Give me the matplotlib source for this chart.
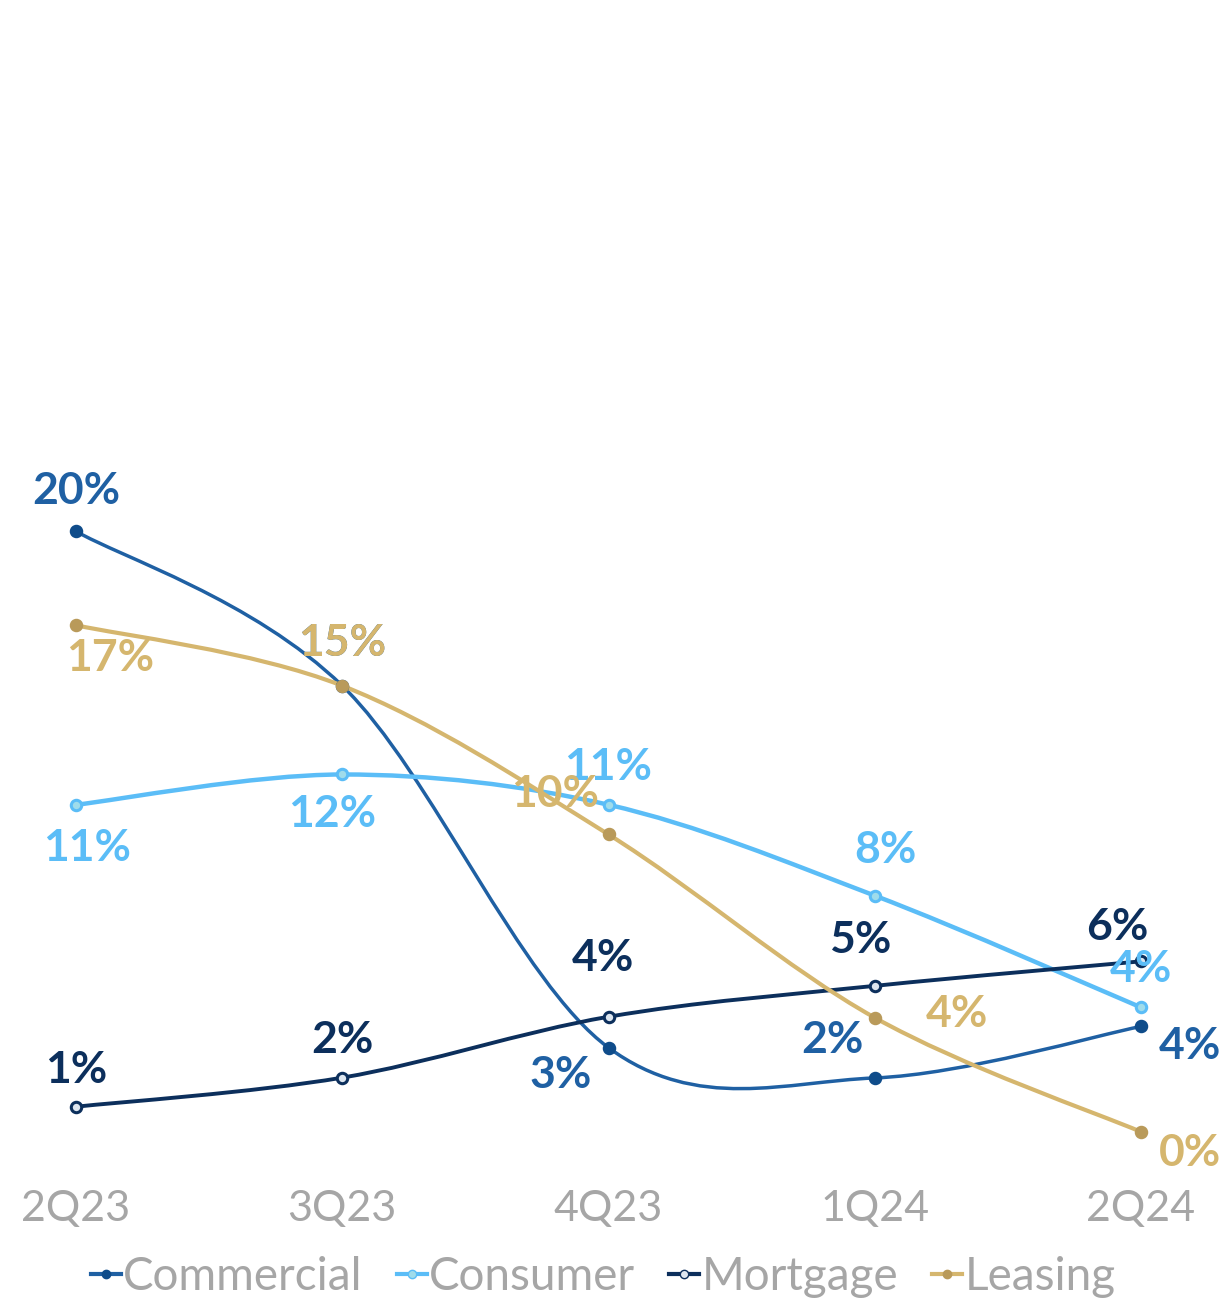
import numpy as np
import matplotlib.pyplot as plt
from matplotlib.path import Path
from matplotlib.patches import PathPatch
from matplotlib.lines import Line2D

quarters = ['2Q23', '3Q23', '4Q23', '1Q24', '2Q24']

commercial = [20.0, 14.9, 2.95, 1.95, 3.65]
consumer = [10.97, 11.97, 10.97, 7.97, 4.28]
mortgage = [1.0, 1.96, 3.97, 4.99, 5.8]
leasing = [16.9, 14.9, 9.99, 3.94, 0.17]

names = ['Commercial', 'Consumer', 'Mortgage', 'Leasing']

plt.rcParams['font.family'] = ['Lato', 'DejaVu Sans']

# line colour, line width, marker face, marker edge, label colour
styles = {
    'Commercial': dict(c='#1F60A3', lw=2.5, mfc='#0F4C8A', mec='#0F4C8A', tc='#1F60A3'),
    'Consumer': dict(c='#5BBDF7', lw=3.2, mfc='#9FDCEB', mec='#5BBDF7', tc='#5BBDF7'),
    'Mortgage': dict(c='#0C2F5C', lw=2.8, mfc='#DDE6F0', mec='#0C2F5C', tc='#0C2F5C'),
    'Leasing': dict(c='#D5B66E', lw=3.0, mfc='#B99A5A', mec='#B99A5A', tc='#D5B66E'),
}

# label offsets in pixels (dx, dy)
offsets = {
    'Commercial': [(0, 40), (0, 43), (-48, -27), (-42, 38), (49, -20)],
    'Consumer': [(11, -43), (-10, -40), (0, 38), (11, 46), (0, 38)],
    'Mortgage': [(0, 37), (0, 38), (-6, 59), (-15, 46), (-24, 34)],
    'Leasing': [(34, -33), (0, 43), (-53, 40), (82, 4), (49, -21)],
}


def smooth_path(xs, ys):
    # Catmull-Rom style cubic Bezier through every point
    pts = np.column_stack([xs, ys]).astype(float)
    n = len(pts)
    verts = [pts[0]]
    codes = [Path.MOVETO]
    for i in range(n - 1):
        p0 = pts[i - 1] if i > 0 else pts[i]
        p1 = pts[i]
        p2 = pts[i + 1]
        p3 = pts[i + 2] if i + 2 < n else pts[i + 1]
        c1 = p1 + (p2 - p0) / 6.0
        c2 = p2 - (p3 - p1) / 6.0
        verts += [c1, c2, p2]
        codes += [Path.CURVE4] * 3
    return Path(verts, codes)


fig = plt.figure(figsize=(12.26, 13), dpi=100)
ax = fig.add_axes([76 / 1226, 163 / 1300, 1065 / 1226, 1060 / 1300])
ax.set_xlim(0, 4)
ax.set_ylim(0, 35)

x = np.arange(len(quarters))
series = {'Commercial': commercial, 'Consumer': consumer,
          'Mortgage': mortgage, 'Leasing': leasing}

for z, name in enumerate(names):
    s = styles[name]
    vals = series[name]
    patch = PathPatch(smooth_path(x, vals), fill=False, edgecolor=s['c'],
                      lw=s['lw'], zorder=2 + z, clip_on=False,
                      capstyle='round', joinstyle='round')
    ax.add_patch(patch)
    ax.plot(x, vals, ls='none', marker='o', ms=7.5, mfc=s['mfc'],
            mec=s['mec'], mew=2.2, zorder=6 + z, clip_on=False)

for name in names:
    s = styles[name]
    for xi, v, off in zip(x, series[name], offsets[name]):
        ax.annotate(f'{v:.0f}%', (xi, v), xytext=off, textcoords='offset pixels',
                    ha='center', va='center', fontsize=32, fontweight='bold',
                    color=s['tc'], zorder=20, annotation_clip=False)

for sp in ax.spines.values():
    sp.set_visible(False)
ax.set_yticks([])
ax.set_xticks(x)
ax.set_xticklabels(quarters, fontsize=31, color='#A6A6A6')
ax.tick_params(axis='x', length=0, pad=38)

handles = [Line2D([], [], color=styles[n]['c'], lw=3, marker='o', ms=6,
                  mfc=styles[n]['mfc'], mec=styles[n]['mec']) for n in names]
leg = fig.legend(handles, names, loc='center', bbox_to_anchor=(0.492, 23 / 1300),
                 ncol=4, frameon=False, fontsize=33, handlelength=0.65,
                 handletextpad=0.05, columnspacing=0.75, labelcolor='#A6A6A6')

fig.savefig('out.png', dpi=100, facecolor='white')
